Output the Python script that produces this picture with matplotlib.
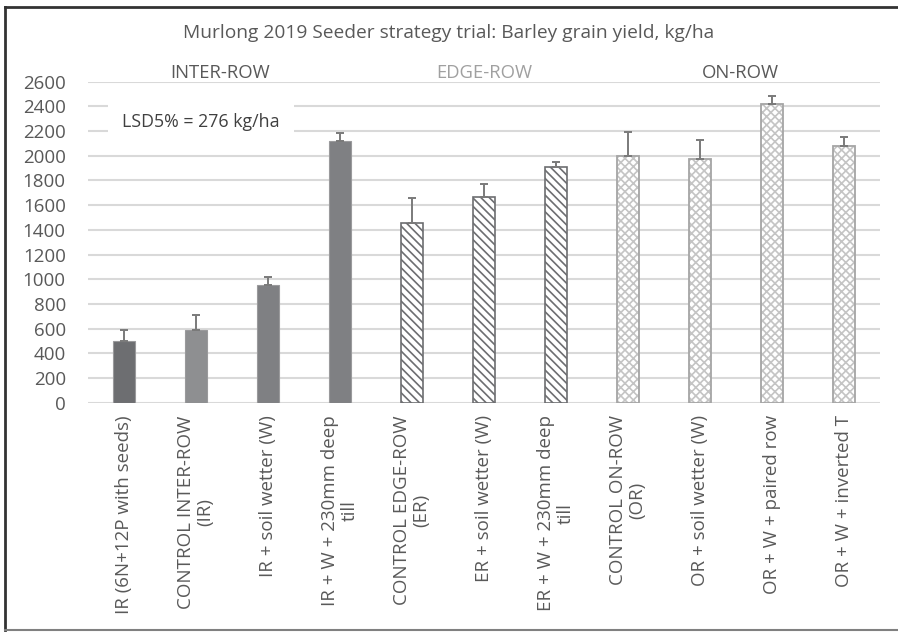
import matplotlib
matplotlib.use("Agg")
import matplotlib.pyplot as plt
from matplotlib.lines import Line2D
import numpy as np

categories = [
    "IR (6N+12P with seeds)",
    "CONTROL INTER-ROW\n(IR)",
    "IR + soil wetter (W)",
    "IR + W + 230mm deep\ntill",
    "CONTROL EDGE-ROW\n(ER)",
    "ER + soil wetter (W)",
    "ER + W + 230mm deep\ntill",
    "CONTROL ON-ROW\n(OR)",
    "OR + soil wetter (W)",
    "OR + W + paired row",
    "OR + W + inverted T",
]
yields = [500, 585, 955, 2115, 1455, 1665, 1905, 2000, 1975, 2420, 2080]
errors = [90, 125, 65, 70, 200, 105, 45, 195, 150, 65, 73]
groups = ["IR", "IR", "IR", "IR", "ER", "ER", "ER", "OR", "OR", "OR", "OR"]
group_labels = ["INTER-ROW", "EDGE-ROW", "ON-ROW"]
yticks = list(range(0, 2601, 200))

plt.rcParams["font.family"] = ["Open Sans", "DejaVu Sans"]
plt.rcParams["hatch.linewidth"] = 1.2

W, H = 898, 633
fig = plt.figure(figsize=(W / 100, H / 100), dpi=100)
ax = fig.add_axes([88 / W, 1 - 402.7 / H, (880 - 88) / W, (402.7 - 81.6) / H])

x = np.arange(len(categories))
solid_colors = ["#6d6e71", "#8e8f91", "#7f8083", "#7f8083"]
for i, (v, e, g) in enumerate(zip(yields, errors, groups)):
    if g == "IR":
        ax.bar(x[i], v, width=0.31, color=solid_colors[i], edgecolor="#9a9a9c",
               linewidth=0.8, zorder=3)
    elif g == "ER":
        ax.bar(x[i], v, width=0.31, color="white", edgecolor="#6d6e71",
               hatch="\\\\\\\\", linewidth=1.2, zorder=3)
    else:
        ax.bar(x[i], v, width=0.31, color="white", edgecolor="#c4c4c4",
               hatch="xxxx", linewidth=0, zorder=3)
        ax.bar(x[i], v, width=0.31, color="none", edgecolor="#a5a5a5",
               linewidth=1.3, zorder=3.5)
    ax.errorbar(x[i], v, yerr=[[0], [e]], fmt="none", ecolor="#7a7a7a",
                elinewidth=1.4, capsize=3, capthick=1.4, zorder=4)

ax.set_xlim(-0.5, len(categories) - 0.5)
ax.set_ylim(0, 2600)
ax.set_yticks(yticks)
ax.set_yticklabels([str(t) for t in yticks])
ax.set_xticks(x)
ax.set_xticklabels(categories, rotation=90, ha="center", va="top",
                   multialignment="center", linespacing=1.1)
ax.tick_params(axis="both", length=0, labelsize=13.5, colors="#595959")
ax.tick_params(axis="x", pad=9)
ax.tick_params(axis="y", pad=16)
ax.yaxis.grid(True, color="#d9d9d9", linewidth=1.5, zorder=0)
ax.set_axisbelow(True)
for s in ax.spines.values():
    s.set_visible(False)

# group headers
for lbl, xf, col in zip(group_labels, [0.167, 0.501, 0.824],
                        ["#595959", "#a0a0a0", "#595959"]):
    ax.text(xf, 1.027, lbl, transform=ax.transAxes, ha="center", va="center",
            fontsize=13.3, color=col)

ax.text(0.043, 0.874, "LSD5% = 276 kg/ha", transform=ax.transAxes,
        ha="left", va="center", fontsize=12.8, color="#404040", zorder=5,
        bbox=dict(boxstyle="square,pad=0.8", facecolor="white", edgecolor="none"))

fig.text(0.5, 1 - 33 / H, "Murlong 2019 Seeder strategy trial: Barley grain yield, kg/ha",
         ha="center", va="center", fontsize=13.8, color="#595959")

# outer frame
fig.add_artist(Line2D([5 / W, 5 / W], [1 - 630 / H, 1 - 7 / H], color="#333333",
                      linewidth=2, transform=fig.transFigure))
fig.add_artist(Line2D([5 / W, 1], [1 - 7 / H, 1 - 7 / H], color="#333333",
                      linewidth=2, transform=fig.transFigure))
fig.add_artist(Line2D([5 / W, 1], [1 - 630 / H, 1 - 630 / H], color="#808080",
                      linewidth=1.5, transform=fig.transFigure))

fig.savefig("out.png", dpi=100)
